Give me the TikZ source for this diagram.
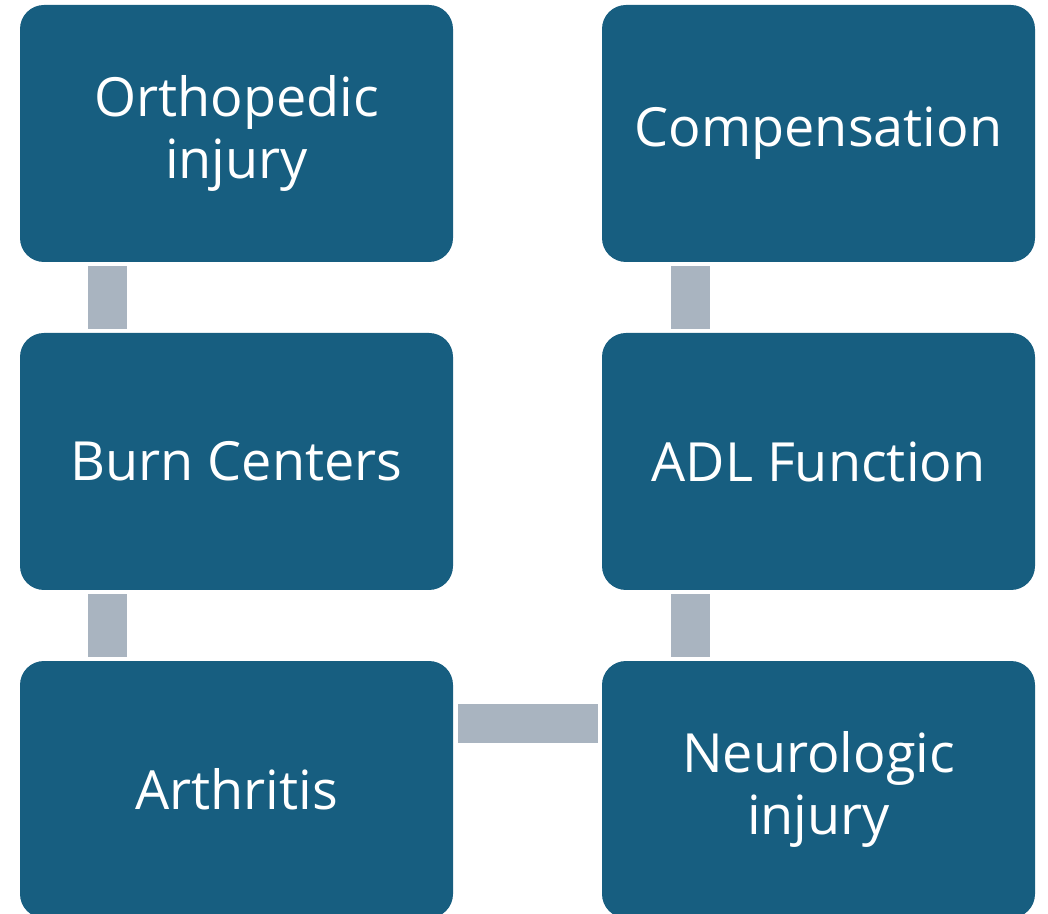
\documentclass[tikz,border=0pt]{standalone}
\usepackage{fontspec}
\setmainfont{Open Sans}
\definecolor{boxblue}{RGB}{23,94,128}
\definecolor{bargray}{RGB}{169,180,192}
\begin{document}
\begin{tikzpicture}[x=1pt,y=1pt,
  topic/.style={draw=none,fill=boxblue,rounded corners=24pt,minimum width=433pt,minimum height=257pt,
    inner sep=0pt,text=white,align=center,font=\fontsize{54}{62}\selectfont},
  bar/.style={draw=bargray,line width=39pt}]
\useasboundingbox (0,0) rectangle (1048,913);
\clip (0,0) rectangle (1048,913);

% Left column
\node [topic] (ortho) at (236.5,779.5) {Orthopedic\\injury};
\node [topic] (burn) at (236.5,451.5) {Burn Centers};
\node [topic] (arth) at (236.5,123.5) {Arthritis};
% Right column
\node [topic] (comp) at (818.5,779.5) {Compensation};
\node [topic] (adl) at (818.5,451.5) {ADL Function};
\node [topic] (neuro) at (818.5,123.5) {Neurologic\\injury};

% Connectors
\draw [bar] ([xshift=-129.5pt,yshift=-4pt]ortho.south) -- ([xshift=-129.5pt,yshift=4pt]burn.north);
\draw [bar] ([xshift=-129.5pt,yshift=-4pt]burn.south) -- ([xshift=-129.5pt,yshift=4pt]arth.north);
\draw [bar] ([xshift=5pt,yshift=66.5pt]arth.east) -- ([xshift=-4pt,yshift=66.5pt]neuro.west);
\draw [bar] ([xshift=-128.5pt,yshift=-4pt]comp.south) -- ([xshift=-128.5pt,yshift=4pt]adl.north);
\draw [bar] ([xshift=-128.5pt,yshift=-4pt]adl.south) -- ([xshift=-128.5pt,yshift=4pt]neuro.north);

\end{tikzpicture}
\end{document}
